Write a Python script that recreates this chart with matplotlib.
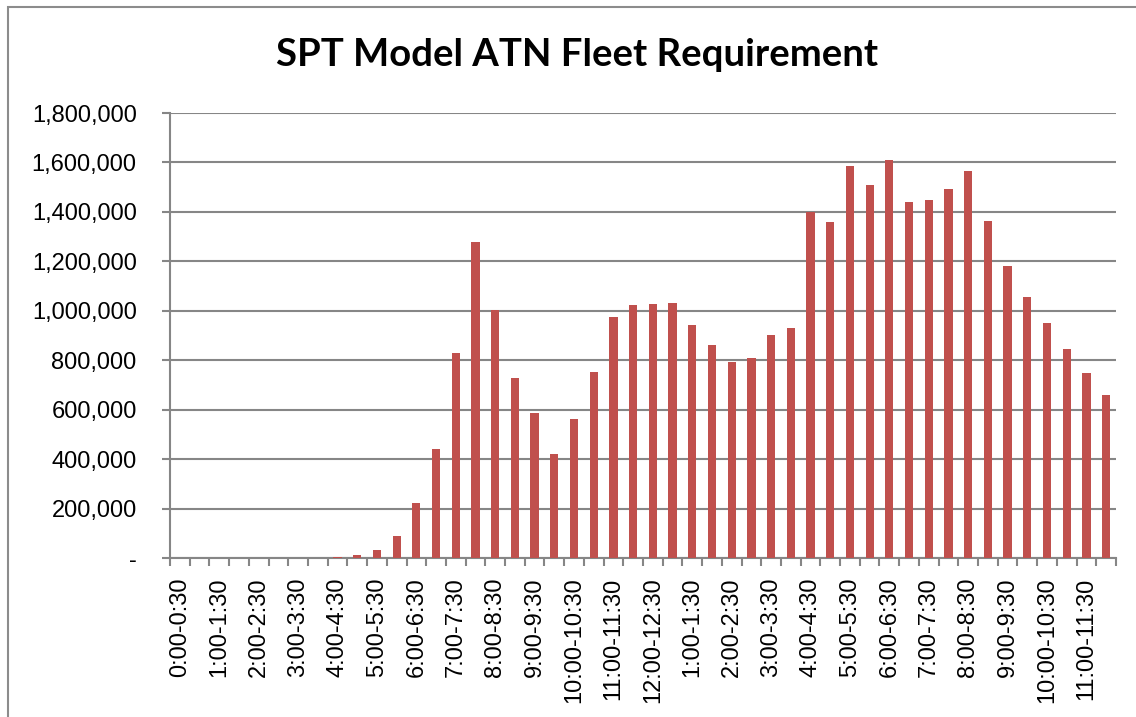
import matplotlib
matplotlib.use("Agg")
import matplotlib.pyplot as plt
from matplotlib.ticker import FuncFormatter
from matplotlib.patches import Rectangle
import numpy as np

# half-hour slots, first half of day then second half (12-hour clock labels)
hours = ["0", "1", "2", "3", "4", "5", "6", "7", "8", "9", "10", "11",
         "12", "1", "2", "3", "4", "5", "6", "7", "8", "9", "10", "11"]
next_hours = ["1", "2", "3", "4", "5", "6", "7", "8", "9", "10", "11", "12",
              "1", "2", "3", "4", "5", "6", "7", "8", "9", "10", "11", "12"]
slots = []
for h, nh in zip(hours, next_hours):
    slots.append(h + ":00-" + h + ":30")
    slots.append(h + ":30-" + nh + ":00")

fleet = [0, 0, 0, 0, 0, 0, 0, 0,
         4000, 12000, 31000, 90000, 222000, 441000, 829000, 1278000,
         1004000, 728000, 585000, 419000, 564000, 751000, 975000, 1023000,
         1029000, 1033000, 942000, 862000, 791000, 809000, 903000, 932000,
         1398000, 1360000, 1586000, 1509000, 1610000, 1441000, 1448000, 1491000,
         1567000, 1363000, 1180000, 1057000, 951000, 845000, 750000, 658000]

yticks = [0, 200000, 400000, 600000, 800000, 1000000, 1200000, 1400000, 1600000, 1800000]

plt.rcParams['font.family'] = ['Liberation Sans', 'DejaVu Sans']

fig = plt.figure(figsize=(11.36, 7.17), dpi=100)
ax = fig.add_axes([170 / 1136, 1 - 558 / 717, 946 / 1136, 445 / 717])

# outer chart frame (cropped at right and bottom)
fig.patches.append(Rectangle((8 / 1136, -0.1), 1.2, 1 - 7 / 717 + 0.1,
                             transform=fig.transFigure, fill=False,
                             edgecolor="#8c8c8c", linewidth=1.5))

x = np.arange(len(fleet))
ax.bar(x, fleet, width=0.42, color="#C0504D", zorder=3)

ax.set_xlim(-0.5, len(fleet) - 0.5)
ax.set_ylim(0, 1800000)
ax.set_yticks(yticks)
ax.yaxis.set_major_formatter(FuncFormatter(lambda v, p: "-" if v == 0 else f"{int(v):,}"))
ax.grid(axis="y", color="#868686", linewidth=1.5, zorder=0)

ax.set_xticks(np.arange(len(fleet) + 1) - 0.5)
ax.set_xticklabels([])
ax.set_xticks(x[::2], minor=True)
ax.set_xticklabels(slots[::2], minor=True, rotation=90, va="top", ha="center")
ax.tick_params(axis="x", which="major", length=6, width=1.5, color="#868686")
ax.tick_params(axis="x", which="minor", length=0, pad=14, labelsize=17)
ax.tick_params(axis="y", length=6, width=1.5, color="#868686", pad=18, labelsize=17)

for s in ["top", "right"]:
    ax.spines[s].set_visible(False)
for s in ["left", "bottom"]:
    ax.spines[s].set_color("#868686")
    ax.spines[s].set_linewidth(1.5)

fig.text(577 / 1136, 1 - 55 / 717, "SPT Model ATN Fleet Requirement",
         ha="center", va="center", fontsize=27.5, fontweight="bold",
         family=["Lato", "DejaVu Sans"])

fig.savefig("out.png", dpi=100)
